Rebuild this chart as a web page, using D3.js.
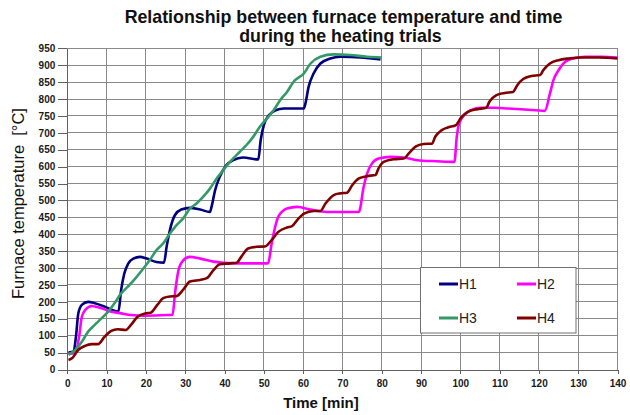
<!DOCTYPE html>
<html><head><meta charset="utf-8">
<script src="https://cdn.jsdelivr.net/npm/d3@7/dist/d3.min.js"></script>
<style>
body{margin:0;background:#fff;}
svg{display:block;font-family:"Liberation Sans",Arial,sans-serif;}
</style></head>
<body>
<svg id="chart" width="630" height="415"></svg>
<script>
// ---- data ----
const xTicks = [0,10,20,30,40,50,60,70,80,90,100,110,120,130,140];
const yTicks = [0,50,100,150,200,250,300,350,400,450,500,550,600,650,700,750,800,850,900,950];
const seriesNames = ["H1","H2","H3","H4"];
const seriesColors = ["#000080","#FF00FF","#339966","#800000"];

const h1Time = [0.3,1.6,2.2,2.8,3.7,5.3,7,9.5,12,13,13.7,14.5,15.5,16.8,18.5,20.2,22.7,24.6,25.3,26.1,27.4,29,31.2,33.8,36.3,36.7,37.6,38.8,40.5,42.2,44.7,48.6,49.2,50,51.3,53,55.1,60.2,60.6,61.4,62.7,64.4,66.9,69.5,74.6,79.7];
const h1Temp = [50,53,97,166,191,200,196,186,174,171,235,284,313,328,333,328,318,316,365,412,457,473,478,473,466,481,530,570,605,619,627,621,678,723,752,767,772,772,787,836,876,905,920,925,923,917];

const h2Time = [0.3,2,3,3.7,4.7,6.2,8.7,11.2,13.7,16.2,19.5,25.3,26.8,27.4,28.3,29.5,31.2,33.8,37.2,42.2,46.5,51.1,52,53.7,55.9,58.5,61.9,66.1,74.2,75.4,76.3,77.5,79.2,82.2,85.6,89,94,98.5,99.1,99.7,101,102.7,105.3,108.7,112.1,116.4,121.5,122.8,123.7,125,126.7,128.8,131.8,136,140];
const h2Temp = [47,48,97,156,178,188,181,171,166,161,159,161,162,225,294,323,333,328,319,314,314,314,373,452,476,481,473,466,466,540,580,609,624,629,627,619,616,614,688,728,752,767,774,774,772,769,765,816,856,885,910,920,925,925,923];

const h3Time = [0.3,2,3.7,5.3,7,8.7,10.4,12,13.7,15.4,17,18.7,21,22.7,24.4,26.1,27.8,29.5,31.2,32.9,34.6,36.3,38,39.7,41.4,43.9,45.6,47.3,49,50.4,52.5,54.2,55.9,57.6,60.2,61.9,64.4,67.8,72,76.3,80];
const h3Temp = [43,58,82,112,132,151,171,196,225,245,265,289,324,353,373,402,427,447,476,491,511,535,565,590,614,644,664,688,718,737,767,797,821,851,876,905,925,932,930,925,923];

const h4Time = [0.3,1.2,2.8,4.5,6.2,7.8,9.5,11.2,12.8,14.9,16.2,17.9,20,21.2,22.9,24.4,26.1,27.8,29.5,31.2,33.8,35.5,37.2,38.8,41.4,43.1,44.3,46,48.2,50.3,52,53.7,55.9,57.2,58.5,60.2,62.7,64.4,65.7,67.8,69.5,71.2,72.5,74.2,76.3,78.4,79.2,80.5,83.1,85.6,86.9,88.6,90.7,92.8,93.6,95.3,96.8,98.9,100.2,101.9,104.4,106.6,107.4,109.1,111.3,113.4,114.5,116,118.1,120.3,121.1,122.8,125,127.5,130.9,135.2,140];
const h4Temp = [28,33,58,70,75,75,97,114,119,117,132,156,166,168,191,211,216,217,236,260,265,270,294,311,314,316,334,358,363,364,383,407,420,424,442,461,469,469,491,516,521,523,545,565,572,575,595,614,622,624,639,659,667,668,688,708,716,723,745,762,770,774,792,811,818,821,841,859,868,871,885,905,915,920,923,923,920];

const seriesTimes = [h1Time,h2Time,h3Time,h4Time];
const seriesTemps = [h1Temp,h2Temp,h3Temp,h4Temp];

// ---- layout ----
const svg = d3.select("#chart");
const L = 67.3, R = 617.5, T = 48.3, B = 369.5;
const x = d3.scaleLinear().domain([0,140]).range([L,R]);
const y = d3.scaleLinear().domain([0,950]).range([B,T]);

// grid
const grid = svg.append("g").attr("stroke","#8a8a8a").attr("stroke-width",1).attr("shape-rendering","crispEdges");
grid.selectAll("line.h").data(yTicks.filter(d=>d>0)).join("line")
  .attr("x1",L).attr("x2",R).attr("y1",d=>y(d)).attr("y2",d=>y(d));
grid.selectAll("line.v").data(xTicks.filter(d=>d>0)).join("line")
  .attr("y1",T).attr("y2",B).attr("x1",d=>x(d)).attr("x2",d=>x(d));

// axes
const yAxis = svg.append("g").attr("transform",`translate(${L},0)`)
  .call(d3.axisLeft(y).tickValues(yTicks).tickSizeInner(9).tickSizeOuter(0).tickPadding(3));
const xAxis = svg.append("g").attr("transform",`translate(0,${B})`)
  .call(d3.axisBottom(x).tickValues(xTicks).tickSizeInner(4).tickSizeOuter(0).tickPadding(6));
[yAxis,xAxis].forEach(g=>{
  g.selectAll("path.domain").attr("stroke","#606060").attr("shape-rendering","crispEdges");
  g.selectAll(".tick line").attr("stroke","#606060").attr("shape-rendering","crispEdges");
  g.selectAll("text").attr("font-family",'"Liberation Sans",Arial,sans-serif')
   .attr("font-size",10).attr("font-weight","bold").attr("fill","#1a1a1a");
});

// lines
const line = d3.line().curve(d3.curveMonotoneX);
seriesNames.forEach((n,i)=>{
  const pts = seriesTimes[i].map((t,j)=>[x(t), y(seriesTemps[i][j])]);
  svg.append("path").attr("d",line(pts)).attr("fill","none")
    .attr("stroke",seriesColors[i]).attr("stroke-width",2.6).attr("stroke-linejoin","round");
});

// legend
const lg = svg.append("g");
lg.append("rect").attr("x",420.5).attr("y",267.5).attr("width",155.5).attr("height",65.5)
  .attr("fill","#fff").attr("stroke","#707070").attr("stroke-width",1);
const legPos = [[439,284],[517,284],[439,318],[517,318]];
seriesNames.forEach((n,i)=>{
  const [lx,ly] = legPos[i];
  lg.append("line").attr("x1",lx).attr("x2",lx+19).attr("y1",ly).attr("y2",ly)
    .attr("stroke",seriesColors[i]).attr("stroke-width",3);
  lg.append("text").attr("x",lx+20).attr("y",ly+5).attr("font-size",14).attr("fill","#222").text(n);
});

// titles
const title = svg.append("text").attr("text-anchor","middle").attr("font-size",17.8)
  .attr("font-weight","bold").attr("fill","#111");
title.append("tspan").attr("x",343.5).attr("y",22.5).text("Relationship between furnace temperature and time");
title.append("tspan").attr("x",340.5).attr("y",41.5).text("during the heating trials");

svg.append("text").attr("text-anchor","middle").attr("font-size",15).attr("font-weight","bold")
  .attr("x",321).attr("y",408).attr("fill","#111").text("Time [min]");
svg.append("text").attr("text-anchor","middle").attr("font-size",16.5).attr("fill","#111")
  .style("white-space","pre")
  .attr("transform","translate(23.5,203.5) rotate(-90)").text("Furnace temperature  [°C]");
</script>
</body></html>
